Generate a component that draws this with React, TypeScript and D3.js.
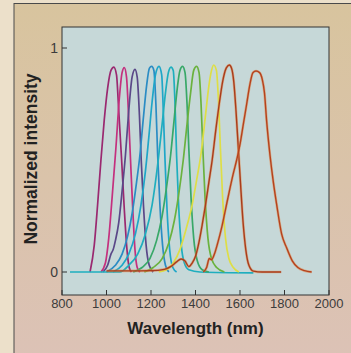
import React from 'react'
import * as d3 from 'd3'

// wavelength (nm), normalized intensity
const peak1 = [[926,0],[945,0.12],[960,0.3],[975,0.5],[990,0.68],[1005,0.82],[1020,0.9],[1033,0.915],[1045,0.88],[1055,0.72],[1068,0.5],[1080,0.28],[1092,0.1],[1102,0.02],[1112,0]]
const peak2 = [[975,0],[995,0.04],[1010,0.15],[1025,0.33],[1042,0.55],[1058,0.78],[1070,0.89],[1080,0.912],[1090,0.87],[1100,0.68],[1108,0.5],[1118,0.28],[1128,0.1],[1138,0.02],[1150,0]]
const peak3 = [[985,0],[1005,0.03],[1020,0.08],[1030,0.1],[1040,0.14],[1055,0.22],[1070,0.36],[1085,0.52],[1100,0.72],[1115,0.87],[1128,0.905],[1138,0.87],[1148,0.7],[1156,0.5],[1166,0.3],[1178,0.12],[1192,0.03],[1210,0]]
const peak4 = [[1000,0],[1040,0.03],[1070,0.08],[1095,0.16],[1115,0.26],[1135,0.4],[1150,0.52],[1165,0.68],[1180,0.83],[1193,0.91],[1203,0.918],[1213,0.9],[1222,0.75],[1230,0.52],[1240,0.3],[1252,0.12],[1265,0.03],[1280,0]]
const peak5 = [[1030,0],[1070,0.03],[1100,0.08],[1130,0.17],[1155,0.3],[1175,0.45],[1190,0.6],[1205,0.76],[1220,0.88],[1236,0.918],[1248,0.88],[1256,0.7],[1263,0.5],[1272,0.28],[1284,0.1],[1298,0.02],[1315,0]]
const peak6 = [[836,0],[1060,0],[1100,0.03],[1140,0.08],[1175,0.17],[1205,0.3],[1230,0.48],[1250,0.66],[1265,0.8],[1278,0.89],[1290,0.915],[1300,0.9],[1308,0.75],[1315,0.52],[1324,0.3],[1336,0.12],[1350,0.04],[1370,0.01],[1420,0],[1660,-0.004]]
const peak7 = [[1120,0],[1160,0.02],[1195,0.06],[1225,0.14],[1250,0.25],[1270,0.38],[1288,0.52],[1303,0.67],[1318,0.82],[1330,0.9],[1342,0.918],[1353,0.89],[1362,0.75],[1370,0.55],[1380,0.33],[1392,0.15],[1408,0.05],[1430,0.01],[1460,0]]
const peak8 = [[1170,0],[1210,0.02],[1250,0.06],[1280,0.13],[1305,0.23],[1325,0.35],[1345,0.5],[1362,0.66],[1378,0.8],[1392,0.9],[1405,0.918],[1416,0.89],[1425,0.75],[1433,0.55],[1443,0.33],[1456,0.15],[1472,0.06],[1495,0.02],[1530,0]]
const peak9 = [[1235,0],[1270,0.01],[1300,0.04],[1330,0.1],[1360,0.2],[1385,0.3],[1405,0.41],[1425,0.53],[1445,0.7],[1460,0.83],[1472,0.9],[1482,0.924],[1494,0.9],[1504,0.75],[1512,0.55],[1522,0.33],[1535,0.15],[1550,0.06],[1570,0.02],[1595,0]]
const peak10 = [[1000,0.005],[1100,0.005],[1200,0.006],[1260,0.012],[1290,0.025],[1315,0.045],[1335,0.058],[1352,0.05],[1370,0.024],[1385,0.04],[1400,0.07],[1415,0.13],[1430,0.21],[1445,0.3],[1460,0.4],[1475,0.5],[1492,0.64],[1508,0.76],[1522,0.85],[1538,0.91],[1552,0.924],[1562,0.91],[1572,0.85],[1582,0.72],[1592,0.56],[1602,0.4],[1614,0.22],[1626,0.1],[1640,0.03],[1660,0.004],[1700,0],[1785,0]]
const peak11 = [[1435,0],[1450,0.02],[1462,0.06],[1472,0.055],[1485,0.08],[1500,0.13],[1518,0.2],[1535,0.28],[1552,0.36],[1570,0.44],[1585,0.5],[1600,0.57],[1615,0.66],[1630,0.75],[1645,0.84],[1658,0.89],[1672,0.897],[1688,0.89],[1700,0.86],[1710,0.8],[1720,0.67],[1735,0.52],[1750,0.4],[1765,0.3],[1787,0.17],[1810,0.107],[1835,0.05],[1860,0.02],[1890,0.006],[1922,0]]

const peaks = [peak1, peak2, peak3, peak4, peak5, peak6, peak7, peak8, peak9, peak10, peak11]
const colors = ['#9a2870', '#c4307e', '#5a4888', '#2a8cc4', '#1ea6c8', '#1eaebe', '#38a868', '#6ab23e', '#dede46', '#a83c1c', '#b4421e']

const xTicks = [800, 1000, 1200, 1400, 1600, 1800, 2000]
const yTicks = [0, 1]

const W = 351
const H = 353
const plot = { left: 62, top: 27, right: 329, bottom: 295 }

export default function App() {
  const x = d3.scaleLinear().domain([800, 2000]).range([plot.left, plot.right])
  // 0 sits at y=272, 1 at y=48
  const y = d3.scaleLinear().domain([0, 1]).range([272, 48])

  const line = d3.line<number[]>()
    .x(d => x(d[0]))
    .y(d => y(d[1]))
    .curve(d3.curveMonotoneX)

  const font = '"Liberation Sans", Arial, sans-serif'

  return (
    <svg width={W} height={H} style={{ position: 'absolute', left: 0, top: 0 }}>
      <defs>
        <linearGradient id="bg" x1="0" y1="0" x2="0" y2="1">
          <stop offset="0" stopColor="#d8c49e" />
          <stop offset="1" stopColor="#dcc2b6" />
        </linearGradient>
      </defs>
      <rect width={W} height={H} fill="#ece0ca" />
      <rect x={14} y={3.5} width={W} height={H} fill="url(#bg)" stroke="#4a4a4a" strokeWidth={1} />

      {/* plot panel */}
      <rect x={plot.left} y={plot.top} width={plot.right - plot.left} height={plot.bottom - plot.top}
        fill="#c6d8d8" stroke="#333" strokeWidth={1} />

      {/* curves */}
      {peaks.map((p, i) => (
        <g key={i}>
          {i >= 9 && <path d={line(p) ?? ''} fill="none" stroke="#e8803c" strokeWidth={2.6} strokeOpacity={0.5} />}
          <path d={line(p) ?? ''} fill="none" stroke={colors[i]} strokeWidth={i >= 9 ? 1.4 : 1.7} />
        </g>
      ))}

      {/* x ticks */}
      {xTicks.map(t => (
        <g key={t}>
          <line x1={x(t)} x2={x(t)} y1={plot.bottom} y2={plot.bottom - 5} stroke="#333" />
          <text x={x(t)} y={308} textAnchor="middle" fontFamily={font} fontSize={13} fill="#3c3c3c">{t}</text>
        </g>
      ))}

      {/* y ticks */}
      {yTicks.map(t => (
        <g key={t}>
          <line x1={plot.left} x2={plot.left + 5} y1={y(t)} y2={y(t)} stroke="#333" />
          <text x={58} y={y(t) + 5} textAnchor="end" fontFamily={font} fontSize={14} fill="#3c3c3c">{t}</text>
        </g>
      ))}

      <text x={(plot.left + plot.right) / 2} y={334} textAnchor="middle" fontFamily={font}
        fontSize={17} fontWeight="bold" fill="#222">Wavelength (nm)</text>
      <text transform="translate(37,159) rotate(-90)" textAnchor="middle" fontFamily={font}
        fontSize={17.5} fontWeight="bold" fill="#222">Normalized intensity</text>
    </svg>
  )
}
